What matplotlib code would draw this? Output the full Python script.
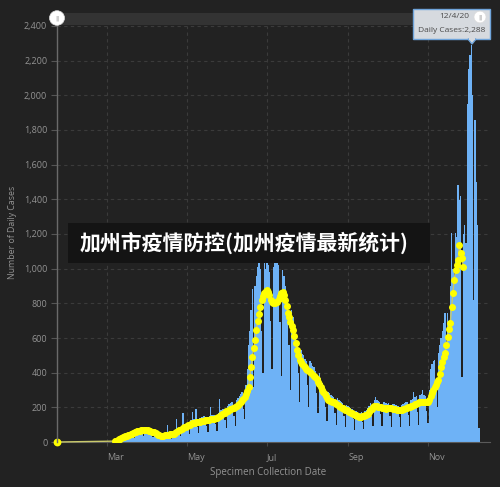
import numpy as np
import matplotlib
matplotlib.use('Agg')
import matplotlib.pyplot as plt
import matplotlib.dates as mdates
import matplotlib.transforms as mtransforms
from matplotlib.patches import Rectangle, Circle, Polygon

# daily cases, one value per day starting 2020-03-01
daily_cases = [
    0, 1, 2, 2, 3, 4, 4,
    4, 12, 17, 22, 25, 27, 20,
    15, 40, 45, 50, 52, 55, 40,
    25, 66, 72, 76, 75, 74, 52,
    32, 82, 80, 77, 72, 68, 45,
    26, 62, 58, 55, 50, 45, 30,
    16, 42, 45, 48, 100, 50, 33,
    20, 55, 58, 62, 130, 72, 50,
    32, 88, 165, 100, 102, 108, 72,
    45, 125, 173, 130, 132, 190, 88,
    52, 138, 144, 146, 148, 145, 95,
    58, 150, 200, 156, 158, 155, 102,
    62, 165, 250, 185, 190, 192, 125,
    80, 210, 220, 225, 228, 230, 150,
    90, 240, 255, 265, 275, 290, 190,
    130, 330, 420, 560, 640, 760, 880,
    320, 900, 960, 1010, 1030, 1000, 640,
    400, 1040, 1000, 1050, 1020, 980, 700,
    420, 1010, 1060, 1040, 1050, 1020, 690,
    380, 990, 960, 900, 860, 800, 560,
    300, 760, 720, 650, 600, 560, 400,
    230, 530, 510, 500, 480, 470, 330,
    200, 470, 455, 440, 430, 410, 280,
    170, 400, 370, 340, 320, 300, 200,
    120, 290, 280, 270, 265, 260, 170,
    100, 255, 245, 235, 230, 225, 150,
    85, 215, 210, 200, 195, 190, 130,
    70, 180, 175, 170, 168, 172, 115,
    75, 180, 185, 195, 210, 225, 150,
    95, 240, 260, 245, 235, 230, 160,
    90, 230, 228, 225, 222, 225, 150,
    85, 220, 218, 215, 212, 210, 145,
    85, 215, 220, 225, 228, 232, 155,
    95, 240, 250, 290, 260, 265, 175,
    100, 270, 275, 300, 270, 265, 180,
    110, 300, 420, 450, 470, 473, 330,
    200, 513, 560, 600, 640, 687, 744,
    560, 744, 700, 900, 1206, 1000, 950,
    1206, 1183, 1483, 1396, 1420, 375, 1200,
    1250, 1150, 1950, 2150, 2230, 2288, 2000,
    820, 1860, 1500, 1250, 80,
]
daily_start = np.datetime64('2020-03-01')

# 7-day average, one value per day starting 2020-03-07
avg_mar = [5, 8, 12, 15, 19, 22, 26, 29, 32, 35, 38, 42, 45, 49, 52, 55, 58, 61, 64, 66, 68, 70, 71, 70, 69]
avg_apr = [67, 65, 63, 60, 58, 55, 51, 47, 43, 40, 37, 35, 36, 38, 40, 42, 43, 44, 45, 46,
           48, 52, 57, 62, 67, 71, 75, 80, 84, 88]
avg_may = [92, 96, 100, 104, 107, 110, 112, 114, 115, 116, 118, 120, 122, 124, 126, 127, 128, 129,
           130, 131, 133, 135, 137, 138, 142, 148, 155, 160, 165, 170, 176]
avg_jun = [180, 184, 188, 191, 194, 197, 200, 205, 212, 220, 230, 240, 250, 260, 275, 295, 317, 375,
           430, 490, 540, 590, 645, 700, 740, 780, 820, 845, 862, 873]
avg_jul = [877, 868, 848, 822, 805, 800, 802, 805, 808, 825, 845, 860, 866, 850, 820, 785, 744, 720,
           695, 670, 646, 610, 570, 530, 500, 473, 460, 450, 440, 430, 422]
avg_aug = [415, 410, 403, 396, 389, 382, 375, 362, 347, 332, 316, 300, 288, 276, 264, 252, 242, 238,
           235, 231, 228, 225, 219, 213, 207, 202, 198, 194, 190, 186, 182]
avg_sep = [178, 173, 169, 165, 161, 157, 153, 150, 147, 144, 146, 149, 152, 154, 156, 163, 172, 182,
           192, 200, 205, 206, 205, 203, 202, 200, 198, 196, 194, 193]
avg_oct = [194, 195, 196, 195, 193, 191, 189, 187, 186, 185, 185, 187, 190, 193, 196, 199, 201, 202,
           206, 210, 214, 218, 222, 226, 229, 231, 232, 232, 231, 231, 231]
avg_nov = [232, 245, 265, 283, 300, 315, 330, 345, 358, 390, 430, 460, 490, 513, 560, 606, 650, 687,
           780, 860, 935, 992, 1020, 1050, 1137, 1090, 1062, 1010]
avg_start = np.datetime64('2020-03-07')
first_point = (np.datetime64('2020-01-23'), 0)

y_ticks = [0, 200, 400, 600, 800, 1000, 1200, 1400, 1600, 1800, 2000, 2200, 2400]
y_labels = ['0', '200', '400', '600', '800', '1,000', '1,200', '1,400', '1,600', '1,800',
            '2,000', '2,200', '2,400']
month_ticks = ['2020-03-01', '2020-05-01', '2020-07-01', '2020-09-01', '2020-11-01']
month_labels = ['Mar', 'May', 'Jul', 'Sep', 'Nov']

title = '加州市疫情防控(加州疫情最新统计)'
tip_date = '12/4/20'
tip_text = 'Daily Cases:2,288'

BG = '#222222'
BLUE = '#6eb2f6'
YELLOW = '#ffff00'
GRID = '#3b3b3b'
TXT = '#939393'

W, H = 500, 487
fig = plt.figure(figsize=(W / 100, H / 100), dpi=100, facecolor=BG)

def fx(px):
    return px / W

def fy(py):
    return 1 - py / H

ax = fig.add_axes([fx(57), fy(442), fx(490) - fx(57), fy(26) - fy(442)])
ax.set_facecolor(BG)

day_dates = daily_start + np.arange(len(daily_cases))
ax.bar(day_dates, daily_cases, width=1.0, color=BLUE, linewidth=0, antialiased=False, zorder=2)

avg_vals = avg_mar + avg_apr + avg_may + avg_jun + avg_jul + avg_aug + avg_sep + avg_oct + avg_nov
avg_dates = avg_start + np.arange(len(avg_vals))
line_dates = np.concatenate([[first_point[0]], avg_dates])
line_vals = [first_point[1]] + avg_vals
ax.plot(line_dates, line_vals, color='#c9c96a', lw=1.0, zorder=3, clip_on=False)
ax.plot(avg_dates, avg_vals, ls='none', marker='o', ms=4.0, mfc=YELLOW, mec=YELLOW, zorder=4)
ax.plot([first_point[0]], [first_point[1]], ls='none', marker='o', ms=4.6, mfc=YELLOW, mec=YELLOW,
        zorder=5, clip_on=False)

left = mdates.date2num(np.datetime64('2020-03-01')) - 38.2
ax.set_xlim(left, left + 433 / 1.31)
ax.set_ylim(0, 2400)

ax.set_yticks(y_ticks)
ax.set_yticklabels(y_labels)
ax.set_xticks(mdates.date2num(np.array(month_ticks, dtype='datetime64[D]')))
ax.set_xticklabels(month_labels, ha='left')
offset = mtransforms.ScaledTranslation(3 / 100, 0, fig.dpi_scale_trans)
for lab in ax.get_xticklabels():
    lab.set_transform(lab.get_transform() + offset)

ax.tick_params(axis='y', colors='#555555', labelcolor=TXT, labelsize=6.5, length=4, width=0.8, pad=3)
ax.tick_params(axis='x', colors='#444444', labelcolor=TXT, labelsize=6.5, length=3, width=0.8, pad=5)
for lab in ax.get_yticklabels() + ax.get_xticklabels():
    lab.set_family('Open Sans')

ax.grid(True, color=GRID, lw=0.8, ls=(0, (3, 3)), zorder=0)
ax.set_axisbelow(True)
for side in ['top', 'right', 'left']:
    ax.spines[side].set_visible(False)
ax.spines['bottom'].set_color('#5a5a5a')
ax.spines['bottom'].set_linewidth(0.8)

fig.text(fx(13), fy(232), 'Number of Daily Cases', rotation=90, color=TXT, fontsize=6.3,
         family='Open Sans', ha='center', va='center')
fig.text(fx(268), fy(473), 'Specimen Collection Date', color=TXT, fontsize=7, family='Open Sans',
         ha='center', va='center')

# left axis line and time slider on top
fig.add_artist(plt.Line2D([fx(57), fx(57)], [fy(442), fy(18)], color='#6a6a6a', lw=1.0))
fig.add_artist(Rectangle((fx(57), fy(25)), fx(490) - fx(57), fy(13) - fy(25),
                         facecolor='#333333', edgecolor='none'))
for cx, cy, r in [(57, 18, 7.5), (480, 17, 6)]:
    fig.add_artist(Circle((fx(cx), fy(cy)), r / W, facecolor='white', edgecolor='#dddddd', lw=0.5,
                          transform=fig.transFigure, zorder=10))
    fig.text(fx(cx), fy(cy), '||', color='#999999', fontsize=4.5, ha='center', va='center',
             zorder=11, family='DejaVu Sans')

# tooltip
fig.add_artist(Rectangle((fx(413), fy(39)), fx(490) - fx(413), fy(9) - fy(39),
                         facecolor='#d6dadf', edgecolor='#6fa4da', lw=1.0, zorder=8))
fig.add_artist(Polygon([[fx(468), fy(39)], [fx(476), fy(39)], [fx(472), fy(44)]],
                       closed=True, facecolor='#d6dadf', edgecolor='#6fa4da', lw=1.0, zorder=8))
fig.add_artist(Rectangle((fx(468.8), fy(40)), fx(475.2) - fx(468.8), fy(38) - fy(40),
                         facecolor='#d6dadf', edgecolor='none', zorder=8.5))
fig.text(fx(454), fy(17), tip_date, color='#4a4a4a', fontsize=6, ha='center', va='center',
         family='Open Sans', zorder=9)
fig.text(fx(452), fy(30), tip_text, color='#4a4a4a', fontsize=6, ha='center', va='center',
         family='Open Sans', zorder=9)

# title overlay
fig.add_artist(Rectangle((fx(68), fy(263)), fx(430) - fx(68), fy(223) - fy(263),
                         facecolor='#141414', edgecolor='none', zorder=12))
fig.text(fx(80), fy(243), title, color='white', fontsize=15, fontweight='black',
         family=['Noto Sans CJK SC', 'DejaVu Sans'], ha='left', va='center', zorder=13)

fig.savefig('out.png', dpi=100, facecolor=BG)
